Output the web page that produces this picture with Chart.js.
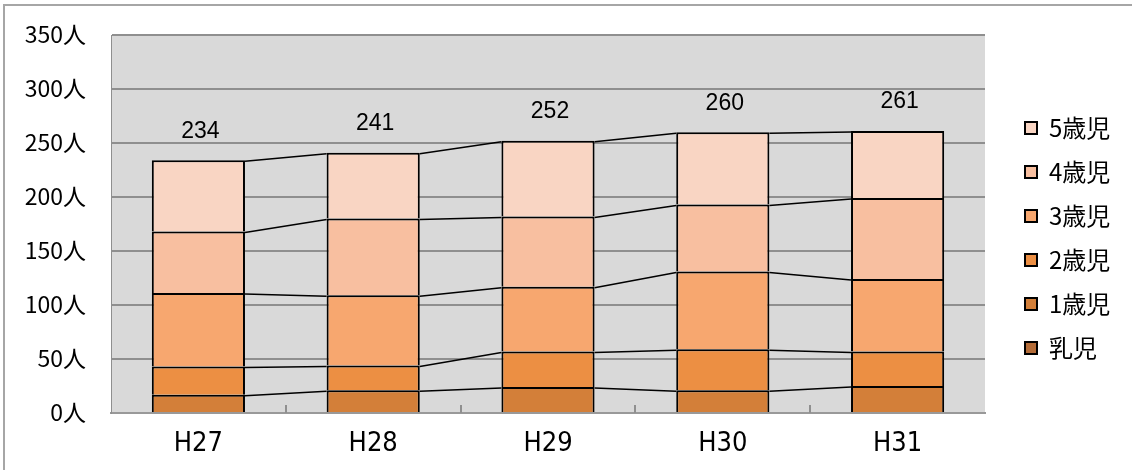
<!DOCTYPE html>
<html>
<head>
<meta charset="utf-8">
<script src="https://cdn.jsdelivr.net/npm/chart.js@4.4.1/dist/chart.umd.min.js"></script>
<style>
  html, body { margin: 0; padding: 0; background: #fff; overflow: hidden; }
  #frame { position: absolute; left: 3px; top: 4px; width: 1140px; height: 480px;
           border-left: 2px solid #a6a6a6; border-top: 2px solid #a6a6a6; }
  #wrap { position: absolute; left: 0; top: 0; width: 1132px; height: 470px; }
</style>
</head>
<body>
<div id="frame"></div>
<div id="wrap"><canvas id="c" width="1132" height="470"></canvas></div>
<script>
// Enrolment by age group per year (persons)
const years   = ['H27', 'H28', 'H29', 'H30', 'H31'];
const infants = [0, 0, 0, 0, 0];
const age1    = [17, 21, 24, 21, 25];
const age2    = [26, 23, 33, 38, 32];
const age3    = [68, 65, 60, 72, 67];
const age4    = [57, 71, 65, 62, 75];
const age5    = [66, 61, 70, 67, 62];
const totals  = [234, 241, 252, 260, 261];

const groupLabels = ['乳児', '1歳児', '2歳児', '3歳児', '4歳児', '5歳児'];
const groupValues = [infants, age1, age2, age3, age4, age5];
const groupColors = ['#b46c38', '#d37f39', '#ec8f43', '#f7a76f', '#f8bfa0', '#f9d5c3'];

const yMax = 350;
const yStep = 50;
const yUnit = '人';

const CJK = '"Noto Sans CJK JP", "Noto Sans CJK SC", sans-serif';

// grey plot background
const plotBg = {
  id: 'plotBg',
  beforeDraw(chart) {
    const { ctx, chartArea: a } = chart;
    ctx.save();
    ctx.fillStyle = '#d9d9d9';
    ctx.fillRect(a.left, a.top, a.right - a.left, a.bottom - a.top);
    ctx.restore();
  }
};

// small inward tick marks between categories
const innerTicks = {
  id: 'innerTicks',
  afterDatasetsDraw(chart) {
    const { ctx, chartArea: a } = chart;
    const xs = chart.scales.x;
    ctx.save();
    ctx.strokeStyle = '#8f8f8f';
    ctx.lineWidth = 2;
    for (let i = 1; i < years.length; i++) {
      const x = Math.round((xs.getPixelForValue(i - 1) + xs.getPixelForValue(i)) / 2);
      ctx.beginPath();
      ctx.moveTo(x, a.bottom);
      ctx.lineTo(x, a.bottom - 8);
      ctx.stroke();
    }
    ctx.restore();
  }
};

// series lines joining segment tops of neighbouring bars, plus totals above each stack
const seriesLines = {
  id: 'seriesLines',
  afterDatasetsDraw(chart) {
    const ctx = chart.ctx;
    ctx.save();
    ctx.strokeStyle = '#000';
    ctx.lineWidth = 1.5;
    chart.data.datasets.forEach((ds, di) => {
      const meta = chart.getDatasetMeta(di);
      for (let i = 0; i < meta.data.length - 1; i++) {
        if (!ds.data[i] || !ds.data[i + 1]) continue;
        const p = meta.data[i], q = meta.data[i + 1];
        ctx.beginPath();
        ctx.moveTo(p.x + p.width / 2, p.y + 1);
        ctx.lineTo(q.x - q.width / 2, q.y + 1);
        ctx.stroke();
      }
    });
    const ys = chart.scales.y;
    const xs = chart.scales.x;
    ctx.fillStyle = '#000';
    ctx.font = '23px "Liberation Sans", Arial, sans-serif';
    ctx.textAlign = 'center';
    ctx.textBaseline = 'middle';
    totals.forEach((t, i) => {
      ctx.fillText(String(t), xs.getPixelForValue(i) + 2, ys.getPixelForValue(t) - 29);
    });
    ctx.restore();
  }
};

// keep the legend column clear of the plot and centred on the rows
const legendPlace = {
  id: 'legendPlace',
  afterInit(chart) {
    const lg = chart.legend;
    const fit = lg.fit;
    lg.fit = function () { fit.call(this); this.width = 147; };
  },
  afterLayout(chart) {
    const lg = chart.legend;
    lg.left += 20;
    lg.right += 20;
    const colH = lg.columnSizes[0].height;
    const start = ((lg.top + 20) + (lg.bottom - colH)) / 2;
    const dy = 116 - start;
    lg.top += dy;
    lg.bottom += dy;
  }
};

new Chart(document.getElementById('c'), {
  type: 'bar',
  data: {
    labels: years,
    datasets: groupLabels.map((name, i) => ({
      label: name,
      data: groupValues[i],
      backgroundColor: groupColors[i],
      borderColor: '#000',
      borderWidth: 2,
      barPercentage: 0.533,
      categoryPercentage: 1.0
    }))
  },
  options: {
    responsive: false,
    animation: false,
    devicePixelRatio: 1,
    layout: { padding: { top: 35, bottom: 0, left: 0, right: 0 } },
    plugins: {
      tooltip: { enabled: false },
      legend: {
        position: 'right',
        reverse: true,
        labels: {
          color: '#000',
          boxWidth: 12,
          boxHeight: 12,
          padding: 20,
          font: { family: CJK, size: 24 }
        }
      }
    },
    scales: {
      x: {
        stacked: true,
        grid: { display: true, drawOnChartArea: false, drawTicks: false },
        border: { display: true, color: '#999', width: 2 },
        ticks: {
          color: '#000',
          padding: 15,
          font: { family: '"Liberation Sans Narrow", "DejaVu Sans Condensed", sans-serif', size: 27 }
        },
        afterFit(s) { s.height = 57; }
      },
      y: {
        stacked: true,
        min: 0,
        max: yMax,
        grid: { color: '#8f8f8f', lineWidth: 2, drawTicks: false },
        border: { display: true, color: '#8f8f8f', width: 1 },
        ticks: {
          stepSize: yStep,
          color: '#000',
          padding: 25,
          labelOffset: -1,
          font: { family: CJK, size: 23, lineHeight: 0.8 },
          callback: v => v + yUnit
        },
        afterFit(s) { s.width = 111; }
      }
    }
  },
  plugins: [plotBg, innerTicks, seriesLines, legendPlace]
});
</script>
</body>
</html>
